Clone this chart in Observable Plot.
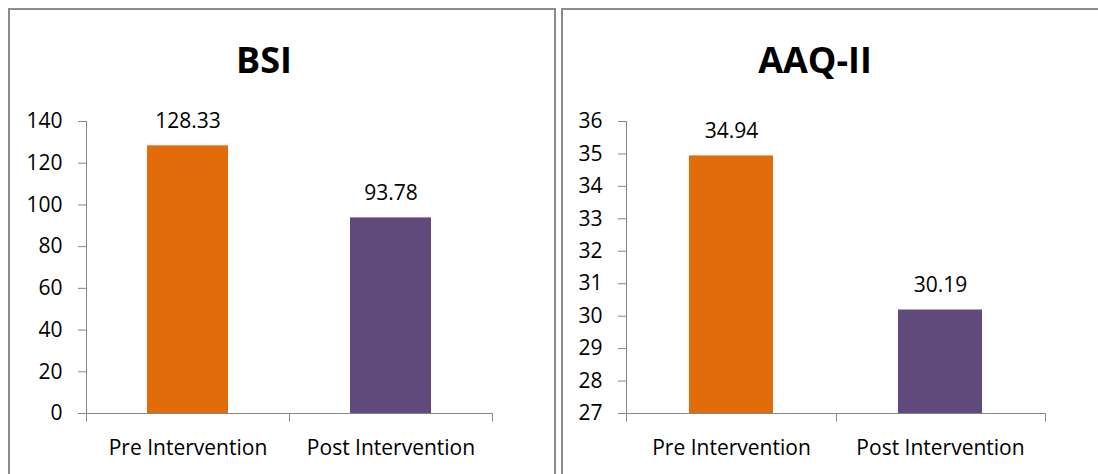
<!DOCTYPE html>
<html>
<head>
<meta charset="utf-8">
<script src="https://cdn.jsdelivr.net/npm/d3@7"></script>
<script src="https://cdn.jsdelivr.net/npm/@observablehq/plot@0.6"></script>
<style>
  html, body { margin: 0; padding: 0; background: #fff; width: 1098px; height: 474px; overflow: hidden; }
  #stage { position: relative; width: 1098px; height: 474px; font-family: "Open Sans", sans-serif; }
  .panel { position: absolute; border: 2px solid #8c8c8c; box-sizing: border-box; background: #fff; }
  .title { position: absolute; font-weight: 700; font-size: 36px; line-height: 36px; text-align: center; color: #000; white-space: nowrap; }
  .chart { position: absolute; top: 0; }
</style>
</head>
<body>
<div id="stage"></div>
<script>
// Groups on the x axis and their bar colours
const categories = ["Pre Intervention", "Post Intervention"];
const barColors = ["#E36C0A", "#604A7B"];

// BSI mean scores
const bsiValues = [128.33, 93.78];
const bsiTicks = [0, 20, 40, 60, 80, 100, 120, 140];

// AAQ-II mean scores
const aaqValues = [34.94, 30.19];
const aaqTicks = [27, 28, 29, 30, 31, 32, 33, 34, 35, 36];

const axisGray = "#868686";
const stage = document.getElementById("stage");

function barChart(values, ticks, width, marginLeft, marginRight) {
  const rows = categories.map((c, i) => ({category: c, value: values[i], color: barColors[i]}));
  const yMin = ticks[0], yMax = ticks[ticks.length - 1];

  // Axis lines plus the tick marks between the categories
  const axisFrame = (index, scales, vals, dims) => {
    const g = d3.create("svg:g").attr("fill", "none").attr("stroke", axisGray).attr("stroke-width", 1);
    const left = Math.round(dims.marginLeft) + 0.5;
    const right = Math.round(dims.width - dims.marginRight) + 0.5;
    const base = Math.round(scales.y(yMin)) + 0.5;
    const top = Math.round(scales.y(yMax));
    g.append("path").attr("d", `M${left},${top}V${base}H${right}`);
    const n = categories.length;
    for (let i = 0; i <= n; i++) {
      const x = Math.round(left - 0.5 + i * (right - left) / n) + 0.5;
      g.append("path").attr("d", `M${x},${base}V${base + 8}`);
    }
    return g.node();
  };

  return Plot.plot({
    width,
    height: 474,
    marginLeft,
    marginRight,
    marginTop: 121,
    marginBottom: 61,
    style: {fontFamily: "Open Sans", fontSize: "21px", background: "transparent", color: "#000"},
    x: {domain: categories, paddingInner: 0.6, paddingOuter: 0.3, label: null},
    y: {domain: [yMin, yMax], label: null},
    marks: [
      Plot.barY(rows, {x: "category", y1: yMin, y2: "value", fill: "color"}),
      Plot.axisY({ticks, tickSize: 8, tickPadding: 16, stroke: axisGray, fill: "#000", label: null}),
      Plot.axisX({tickSize: 0, tickPadding: 27, fill: "#000", label: null}),
      Plot.text(rows, {x: "category", y: "value", text: d => d.value.toFixed(2), lineAnchor: "bottom", dy: -18, fill: "#000"}),
      axisFrame
    ]
  });
}

function addPanel({title, titleCenter, values, ticks, boxLeft, boxWidth, svgLeft, width, marginLeft, marginRight}) {
  const box = document.createElement("div");
  box.className = "panel";
  Object.assign(box.style, {left: boxLeft + "px", top: "8px", width: boxWidth + "px", height: "520px"});
  stage.appendChild(box);

  const chart = barChart(values, ticks, width, marginLeft, marginRight);
  chart.classList.add("chart");
  chart.style.left = svgLeft + "px";
  stage.appendChild(chart);

  const t = document.createElement("div");
  t.className = "title";
  t.textContent = title;
  Object.assign(t.style, {left: (titleCenter - 150) + "px", width: "300px", top: "42px"});
  stage.appendChild(t);
}

addPanel({
  title: "BSI", titleCenter: 264, values: bsiValues, ticks: bsiTicks,
  boxLeft: 8, boxWidth: 548, svgLeft: 0, width: 555, marginLeft: 86, marginRight: 63
});
addPanel({
  title: "AAQ-II", titleCenter: 815, values: aaqValues, ticks: aaqTicks,
  boxLeft: 561, boxWidth: 600, svgLeft: 555, width: 543, marginLeft: 71, marginRight: 53
});
</script>
</body>
</html>
